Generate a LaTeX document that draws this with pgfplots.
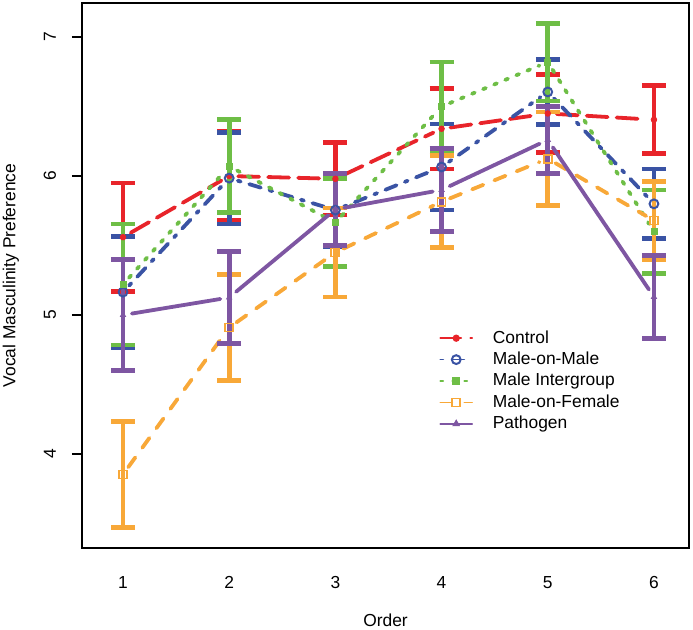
\documentclass[border=0pt]{standalone}
\usepackage{fontspec}
\setmainfont{Liberation Sans}
\usepackage{pgfplots}
\usepackage{pgfplotstable}
\pgfplotsset{compat=1.18}

\definecolor{cred}{RGB}{232,36,42}
\definecolor{cblue}{RGB}{58,83,164}
\definecolor{cgreen}{RGB}{110,190,70}
\definecolor{corange}{RGB}{248,168,56}
\definecolor{cpurple}{RGB}{126,86,162}

% mean and half-width of the error bar, per order
\pgfplotstableread{
x y e
1 5.56 0.39
2 6.00 0.32
3 5.98 0.26
4 6.34 0.29
5 6.45 0.28
6 6.405 0.245
}\tcontrol
\pgfplotstableread{
x y e
1 5.165 0.40
2 5.985 0.33
3 5.755 0.265
4 6.065 0.31
5 6.605 0.235
6 5.80 0.25
}\tmm
\pgfplotstableread{
x y e
1 5.22 0.435
2 6.07 0.335
3 5.665 0.315
4 6.50 0.32
5 6.82 0.28
6 5.60 0.30
}\tmi
\pgfplotstableread{
x y e
1 3.853 0.38
2 4.91 0.38
3 5.45 0.32
4 5.815 0.33
5 6.125 0.335
6 5.68 0.28
}\tmf
\pgfplotstableread{
x y e
1 5.00 0.40
2 5.126 0.33
3 5.76 0.26
4 5.90 0.30
5 6.26 0.24
6 5.13 0.30
}\tpath

\pgfplotsset{
  ebar/.style={forget plot, draw=none, mark=none,
    error bars/.cd, y dir=both, y explicit,
    error bar style={draw=#1, solid, line width=2.4pt},
    error mark options={draw=#1, solid, line width=2.4pt, mark size=6pt, rotate=90}},
  lcontrol/.style={draw=cred, line width=1.9pt, line cap=round, dash pattern=on 10.5pt off 4.5pt},
  lmm/.style={draw=cblue, line width=1.9pt, line cap=round, dash pattern=on 1.5pt off 4.5pt on 6pt off 4.5pt},
  lmi/.style={draw=cgreen, line width=1.9pt, line cap=round, dash pattern=on 1.5pt off 4.5pt},
  lmf/.style={draw=corange, line width=1.9pt, line cap=round, dash pattern=on 6pt off 6pt},
  lpath/.style={draw=cpurple, line width=1.9pt, line cap=round, solid},
  mcontrol/.style={mark=*, mark size=1.4pt, mark options={solid, fill=cred, draw=cred}},
  mmm/.style={mark=o, mark size=2.2pt, mark options={solid, fill=white, draw=cblue, line width=1pt}},
  mmi/.style={mark=square*, mark size=1.5pt, mark options={solid, fill=cgreen, draw=cgreen}},
  mmf/.style={mark=square, mark size=2pt, mark options={solid, fill=white, draw=corange, line width=0.9pt}},
  mpath/.style={mark=triangle*, mark size=1.5pt, mark options={solid, fill=cpurple, draw=cpurple}},
  gap/.style={forget plot, mark=none, shorten <=4.5pt, shorten >=4.5pt},
}

\begin{document}
\begin{tikzpicture}
\useasboundingbox (-41pt,-41pt) rectangle (305.5pt,274pt);
\begin{axis}[
  scale only axis, width=303.5pt, height=272.5pt,
  xmin=0.614, xmax=6.33, ymin=3.324, ymax=7.245,
  xtick={1,2,3,4,5,6}, ytick={4,5,6,7},
  ytick pos=left,
  axis line style={line width=0.8pt},
  font=\fontsize{8.7}{10.4}\selectfont,
  /pgf/number format/assume math mode=true,
  x tick style={draw=none},
  y tick style={line width=0.8pt, black},
  major tick length=5pt, tick align=outside,
  xticklabel style={yshift=-5.5pt},
  yticklabel style={xshift=-4.5pt, rotate=90, anchor=south},
  xlabel={Order}, ylabel={Vocal Masculinity Preference},
  every axis x label/.style={at={(axis description cs:0.5,-0.132)}, anchor=center},
  every axis y label/.style={at={(axis description cs:-0.117,0.5)}, anchor=center, rotate=90},
  legend style={at={(0.585,0.411)}, anchor=north west, draw=none, fill=none,
    font=\fontsize{8.7}{10.4}\selectfont, row sep=-1.1pt, inner sep=1pt},
  legend cell align=left,
  legend image code/.code={
    \draw[mark repeat=2, mark phase=2, #1, line width=0.8pt]
      plot coordinates {(0cm,0cm) (0.28cm,0cm) (0.56cm,0cm)};
    \path (0.82cm,0cm);},
]

% Control
\addplot[ebar=cred] table[x=x, y=y, y error=e] {\tcontrol};
\pgfplotsinvokeforeach{1:2,2:3,3:4,4:5,5:6}{
  \addplot[lcontrol, gap, restrict x to domain=#1] table[x=x, y=y] {\tcontrol};}
\addplot[forget plot, only marks, mcontrol] table[x=x, y=y] {\tcontrol};

% Male-on-Male
\addplot[ebar=cblue] table[x=x, y=y, y error=e] {\tmm};
\pgfplotsinvokeforeach{1:2,2:3,3:4,4:5,5:6}{
  \addplot[lmm, gap, restrict x to domain=#1] table[x=x, y=y] {\tmm};}
\addplot[forget plot, only marks, mmm] table[x=x, y=y] {\tmm};

% Male Intergroup
\addplot[ebar=cgreen] table[x=x, y=y, y error=e] {\tmi};
\pgfplotsinvokeforeach{1:2,2:3,3:4,4:5,5:6}{
  \addplot[lmi, gap, restrict x to domain=#1] table[x=x, y=y] {\tmi};}
\addplot[forget plot, only marks, mmi] table[x=x, y=y] {\tmi};

% Male-on-Female
\addplot[ebar=corange] table[x=x, y=y, y error=e] {\tmf};
\pgfplotsinvokeforeach{1:2,2:3,3:4,4:5,5:6}{
  \addplot[lmf, gap, restrict x to domain=#1] table[x=x, y=y] {\tmf};}
\addplot[forget plot, only marks, mmf] table[x=x, y=y] {\tmf};

% Pathogen
\addplot[ebar=cpurple] table[x=x, y=y, y error=e] {\tpath};
\pgfplotsinvokeforeach{1:2,2:3,3:4,4:5,5:6}{
  \addplot[lpath, gap, restrict x to domain=#1] table[x=x, y=y] {\tpath};}
\addplot[forget plot, only marks, mpath] table[x=x, y=y] {\tpath};

\addlegendimage{lcontrol, mcontrol}
\addlegendentry{Control}
\addlegendimage{lmm, mmm}
\addlegendentry{Male-on-Male}
\addlegendimage{lmi, mmi}
\addlegendentry{Male Intergroup}
\addlegendimage{lmf, mmf}
\addlegendentry{Male-on-Female}
\addlegendimage{lpath, mpath}
\addlegendentry{Pathogen}

\end{axis}
\end{tikzpicture}
\end{document}
